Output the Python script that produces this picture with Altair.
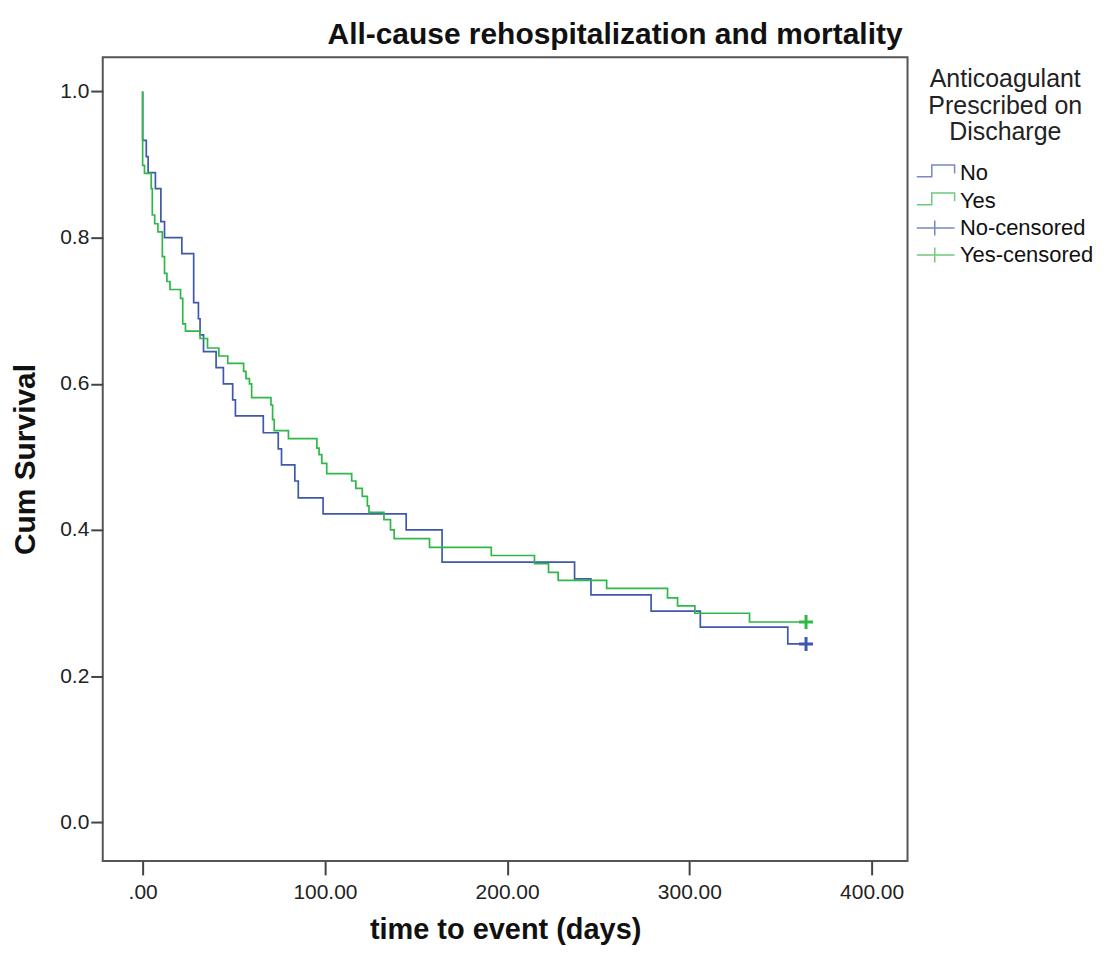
import altair as alt
import pandas as pd

# ---- data ----
no_times = [0, 0, 2, 3, 7, 10, 12, 21.5, 28, 30.6, 31.5, 33.4, 40.3, 44.3, 49.4, 50.9,
            66.2, 74.4, 76.2, 83.5, 85.4, 99, 144.6, 164.3, 237, 246, 279, 306, 354, 364]
no_surv = [1.0, 0.933, 0.911, 0.889, 0.867, 0.822, 0.800, 0.778, 0.711, 0.689, 0.667, 0.644,
           0.622, 0.600, 0.578, 0.556, 0.533, 0.511, 0.489, 0.467, 0.444, 0.422, 0.400, 0.356,
           0.333, 0.311, 0.289, 0.267, 0.244, 0.244]

yes_times = [0, 0, 1, 4.7, 5.3, 6.6, 8.4, 10.8, 12, 13.3, 15, 20.8, 22, 23.5, 31.5, 35.6,
             41.8, 46.7, 55.4, 56.7, 58.6, 59.8, 70.4, 71.3, 72.2, 80, 95.6, 96.8, 98.3, 101,
             114.7, 117, 120.5, 123.3, 124.2, 132.4, 136, 138, 157.4, 191.3, 215, 222.7, 228,
             254.6, 288, 293.5, 303, 333, 364]
yes_surv = [1.0, 0.899, 0.888, 0.867, 0.831, 0.819, 0.808, 0.774, 0.751, 0.740, 0.729, 0.717,
            0.682, 0.672, 0.662, 0.649, 0.638, 0.628, 0.617, 0.607, 0.600, 0.581, 0.571, 0.551,
            0.536, 0.525, 0.512, 0.503, 0.491, 0.477, 0.467, 0.457, 0.446, 0.433, 0.424, 0.414,
            0.400, 0.388, 0.376, 0.365, 0.354, 0.342, 0.331, 0.320, 0.307, 0.296, 0.286, 0.274,
            0.274]

censor_times = [364, 364]
censor_surv = [0.244, 0.274]
censor_groups = ["No-censored", "Yes-censored"]

legend_domain = ["No", "Yes", "No-censored", "Yes-censored"]
legend_colors = ["#3E58AC", "#2EB848", "#3E58AC", "#2EB848"]
x_ticks = [0, 100, 200, 300, 400]
y_ticks = [0.0, 0.2, 0.4, 0.6, 0.8, 1.0]

FONT = "Liberation Sans"

rows = []
for i, (t, s) in enumerate(zip(no_times, no_surv)):
    rows.append({"time": t, "surv": s, "grp": "No", "idx": i})
for i, (t, s) in enumerate(zip(yes_times, yes_surv)):
    rows.append({"time": t, "surv": s, "grp": "Yes", "idx": i})
lines_df = pd.DataFrame(rows)
cens_df = pd.DataFrame({"time": censor_times, "surv": censor_surv, "grp": censor_groups})

x_scale = alt.Scale(domain=[-21.9, 419.7], nice=False, zero=False)
y_scale = alt.Scale(domain=[-0.053, 1.047], nice=False, zero=False)
color_scale = alt.Scale(domain=legend_domain, range=legend_colors)

step_path = "M-1.07,0.35L0.43,0.35L0.43,-0.82L2.72,-0.82L2.72,0.02"
plus_leg_path = "M-1.07,0L2.72,0M0.73,-0.75L0.73,0.75"
shape_scale = alt.Scale(domain=legend_domain,
                        range=[step_path, step_path, plus_leg_path, plus_leg_path])

x_axis = alt.Axis(
    values=x_ticks,
    labelExpr="datum.value == 0 ? '.00' : format(datum.value, '.2f')",
    title="time to event (days)", grid=False, domain=False,
    tickSize=14, tickWidth=2, tickColor="#444",
    labelFontSize=21, labelFont=FONT, labelColor="#222", labelPadding=7,
    titleFontSize=29, titleFont=FONT, titleFontWeight="bold", titleColor="#111",
    titlePadding=13,
)
y_axis = alt.Axis(
    values=y_ticks, format=".1f",
    title="Cum Survival", grid=False, domain=False,
    tickSize=12, tickWidth=2, tickColor="#444",
    labelFontSize=21, labelFont=FONT, labelColor="#222", labelPadding=2,
    titleFontSize=30, titleFont=FONT, titleFontWeight="bold", titleColor="#111",
    titlePadding=19,
)

leg_props = dict(
    title=["Anticoagulant", "Prescribed on", "Discharge"],
    orient="none", legendX=816, legendY=10,
    titleFontSize=25, titleFont=FONT, titleFontWeight="normal", titleColor="#222",
    titleAlign="center", titleAnchor="middle", titleLineHeight=26.7, titlePadding=17,
    labelFontSize=22, labelFont=FONT, labelColor="#111", labelOffset=21.5,
    symbolSize=400, symbolStrokeWidth=1.5, rowPadding=5, padding=0,
)

legend_df = pd.DataFrame({"grp": pd.Series([], dtype=str), "time": pd.Series([], dtype=float),
                          "surv": pd.Series([], dtype=float)})
leg = alt.Chart(legend_df).mark_point(filled=False, strokeWidth=1.5).encode(
    x=alt.X("time:Q", scale=x_scale, axis=x_axis),
    y=alt.Y("surv:Q", scale=y_scale, axis=y_axis),
    color=alt.Color("grp:N", scale=color_scale, legend=alt.Legend(**leg_props)),
    shape=alt.Shape("grp:N", scale=shape_scale, legend=alt.Legend(**leg_props)),
)

lines = alt.Chart(lines_df).mark_line(interpolate="step-after", strokeWidth=1.7).encode(
    x=alt.X("time:Q", scale=x_scale, axis=x_axis),
    y=alt.Y("surv:Q", scale=y_scale, axis=y_axis),
    color=alt.Color("grp:N", scale=color_scale, legend=None),
    order="idx:Q",
    detail="grp:N",
)

cens = alt.Chart(cens_df).mark_point(
    shape="M-1,0L1,0M0,-1L0,1", size=196, strokeWidth=3, filled=False, opacity=1
).encode(
    x=alt.X("time:Q", scale=x_scale),
    y=alt.Y("surv:Q", scale=y_scale),
    color=alt.Color("grp:N", scale=color_scale, legend=None),
)

chart = alt.layer(leg, lines, cens).properties(
    width=807, height=806,
    background="white",
    title=alt.TitleParams(
        "All-cause rehospitalization and mortality",
        anchor="end", frame="group", font=FONT, fontSize=30, fontWeight="bold",
        color="#111", dx=-5, offset=7,
    ),
    autosize=alt.AutoSizeParams(type="none"),
    padding={"left": 95, "top": 48, "right": 195, "bottom": 86},
).configure_view(stroke="#555", strokeWidth=2)

chart.save("out.html", embed_options={"renderer": "svg", "actions": False})
